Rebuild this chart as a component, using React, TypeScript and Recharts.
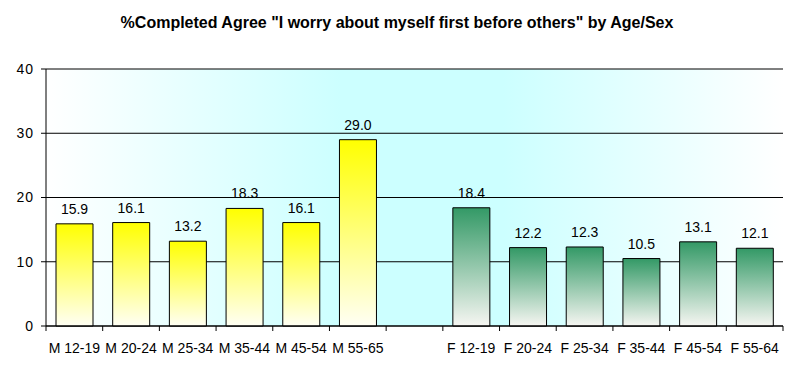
import React from 'react';
import { BarChart, Bar, XAxis, YAxis, CartesianGrid, Cell, LabelList } from 'recharts';

const categories = ['M 12-19', 'M 20-24', 'M 25-34', 'M 35-44', 'M 45-54', 'M 55-65', '', 'F 12-19', 'F 20-24', 'F 25-34', 'F 35-44', 'F 45-54', 'F 55-64'];
const values: (number | null)[] = [15.9, 16.1, 13.2, 18.3, 16.1, 29.0, null, 18.4, 12.2, 12.3, 10.5, 13.1, 12.1];
const groups = ['M', 'M', 'M', 'M', 'M', 'M', '', 'F', 'F', 'F', 'F', 'F', 'F'];
const yTicks = [0, 10, 20, 30, 40];
const title = '%Completed Agree "I worry about myself first before others" by Age/Sex';

const data = categories.map((name, i) => ({ name, value: values[i], group: groups[i] }));

const FONT = '"Liberation Sans", Arial, sans-serif';

const XTick = (props: any) => {
  const { x, y, payload, index, visibleTicksCount } = props;
  const half = payload.offset || 0;
  const axisY = y - 17;
  return (
    <g>
      <line x1={x - half} x2={x - half} y1={axisY} y2={axisY + 5} stroke="#000" />
      {index === visibleTicksCount - 1 && (
        <line x1={x + half} x2={x + half} y1={axisY} y2={axisY + 5} stroke="#000" />
      )}
      <text x={x} y={y} dy="0.71em" textAnchor="middle" fontSize={14} fontFamily={FONT} fill="#000">
        {payload.value}
      </text>
    </g>
  );
};

export default function App() {
  return (
    <div style={{ position: 'absolute', left: 0, top: 0, width: 794, height: 372, background: '#fff' }}>
      <div
        style={{
          position: 'absolute', left: 0, top: 13, width: 794, textAlign: 'center',
          fontFamily: FONT, fontWeight: 'bold', fontSize: 16, lineHeight: '20px', color: '#000',
        }}
      >
        {title}
      </div>
      <BarChart width={794} height={372} data={data} margin={{ top: 69, right: 11, left: 0, bottom: 0 }} barSize={37}>
        <defs>
          <linearGradient id="bgGrad" x1="0" y1="0" x2="1" y2="0">
            <stop offset="0" stopColor="#FFFFFF" />
            <stop offset="0.4" stopColor="#CCFFFF" />
            <stop offset="0.62" stopColor="#CCFFFF" />
            <stop offset="1" stopColor="#FFFFFF" />
          </linearGradient>
          <linearGradient id="yellowGrad" x1="0" y1="0" x2="0" y2="1">
            <stop offset="0" stopColor="#FFFF00" />
            <stop offset="1" stopColor="#FFFFF4" />
          </linearGradient>
          <linearGradient id="greenGrad" x1="0" y1="0" x2="0" y2="1">
            <stop offset="0" stopColor="#339966" />
            <stop offset="1" stopColor="#F6F6F2" />
          </linearGradient>
        </defs>
        <CartesianGrid vertical={false} stroke="#000" fill="url(#bgGrad)" fillOpacity={1} />
        <XAxis
          dataKey="name"
          type="category"
          height={46}
          interval={0}
          tickLine={false}
          tickSize={0}
          tickMargin={17}
          axisLine={{ stroke: '#000' }}
          tick={<XTick />}
        />
        <XAxis xAxisId="top" dataKey="name" orientation="top" height={0} tick={false} tickLine={false} axisLine={{ stroke: '#808080' }} />
        <YAxis
          domain={[0, 40]}
          ticks={yTicks}
          width={46}
          tickSize={5}
          tickMargin={7}
          axisLine={{ stroke: '#000' }}
          tickLine={{ stroke: '#000' }}
          tick={{ fontSize: 14, fontFamily: FONT, fill: '#000', letterSpacing: 1 }}
        />
        <YAxis yAxisId="right" orientation="right" domain={[0, 40]} width={0} tick={false} tickLine={false} axisLine={{ stroke: '#808080' }} />
        <Bar dataKey="value" stroke="#000" strokeWidth={1} isAnimationActive={false}>
          {data.map((d, i) => (
            <Cell key={i} fill={d.group === 'F' ? 'url(#greenGrad)' : 'url(#yellowGrad)'} />
          ))}
          <LabelList
            dataKey="value"
            position="top"
            offset={10}
            formatter={(v: any) => (v == null ? '' : Number(v).toFixed(1))}
            style={{ fontSize: 14, fontFamily: FONT, fill: '#000' }}
          />
        </Bar>
      </BarChart>
    </div>
  );
}
